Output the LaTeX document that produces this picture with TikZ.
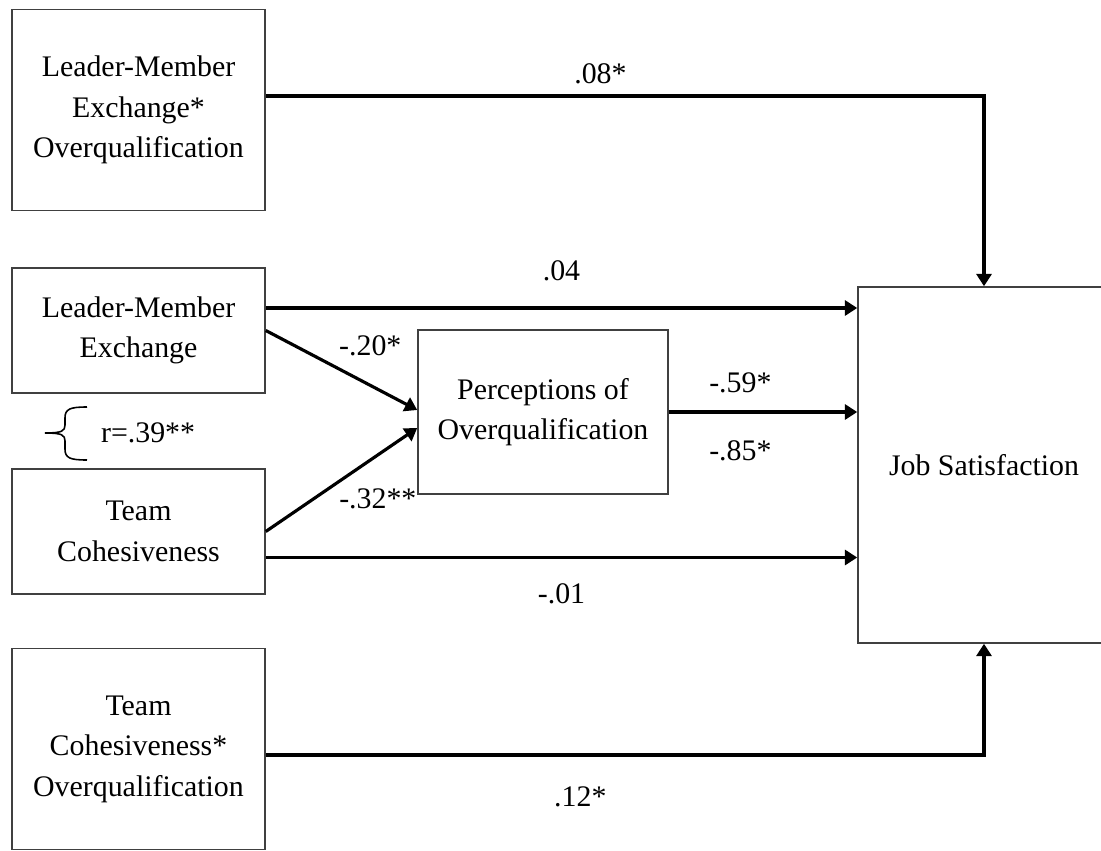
\documentclass[tikz,border=0pt]{standalone}
\usepackage{fontspec}
\setmainfont{Liberation Serif}
\usetikzlibrary{arrows.meta}

\begin{document}
\begin{tikzpicture}[
    x=0.02cm, y=-0.02cm,
    font=\fontsize{17}{23}\selectfont,
    varbox/.style={draw=black!75, line width=0.9pt, rectangle, align=center, inner sep=0pt, minimum width=5.06cm},
    bigbox/.style={varbox, minimum height=4.02cm},
    smallbox/.style={varbox, minimum height=2.5cm},
    line/.style={draw, line width=1.8pt, -{Triangle[length=7pt,width=8.5pt]}},
    coef/.style={inner sep=1pt}
]
\useasboundingbox (0,0) rectangle (1101,851);

\node[bigbox] (lmxo) at (138.5,110) {Leader-Member\\Exchange*\\Overqualification};
\node[smallbox] (lmx) at (138.5,330.5) {Leader-Member\\Exchange};
\node[smallbox] (tc) at (138.5,531.5) {Team\\Cohesiveness};
\node[bigbox] (tco) at (138.5,749) {Team\\Cohesiveness*\\Overqualification};

\node[varbox, minimum width=5cm, minimum height=3.28cm] (poq) at (543,412) {Perceptions of\\Overqualification};
\node[varbox, minimum width=5.04cm, minimum height=7.12cm] (js) at (984,465) {Job Satisfaction};

\node[coef, anchor=west] (corr) at (99,433) {r=.39**};
\draw[line width=0.9pt] (87,407) .. controls (70,407) and (65,409) .. (65,418) -- (65,425) .. controls (65,431) and (62,433) .. (45,433);
\draw[line width=0.9pt] (87,460) .. controls (70,460) and (65,458) .. (65,449) -- (65,441) .. controls (65,435) and (62,433) .. (45,433);

\draw[line] ([yshift=0.28cm]lmxo.east) -| node[coef, pos=0.233, above=0.18cm] {.08*} (js.north);
\draw[line] ([yshift=0.45cm]lmx.east) coordinate (lmxhi) -- node[coef, above=0.48cm] {.04} (lmxhi -| js.west);
\draw[line] (lmx.east) -- node[coef, pos=0.69, above=0.52cm] {-.20*} ([yshift=0.04cm]poq.west);
\draw[line] (tc.east) -- node[coef, pos=0.74, below=0.6cm] {-.32**} ([yshift=-0.32cm]poq.west);
\draw[line] (poq.east) -- node[coef, pos=0.38, above=0.32cm] {-.59*} node[coef, pos=0.38, below=0.5cm] {-.85*} (poq.east -| js.west);
\draw[line] ([yshift=-0.52cm]tc.east) coordinate (tclo) -- node[coef, below=0.46cm] {-.01} (tclo -| js.west);
\draw[line] ([yshift=-0.12cm]tco.east) -| node[coef, pos=0.219, below=0.56cm] {.12*} (js.south);

\end{tikzpicture}
\end{document}
